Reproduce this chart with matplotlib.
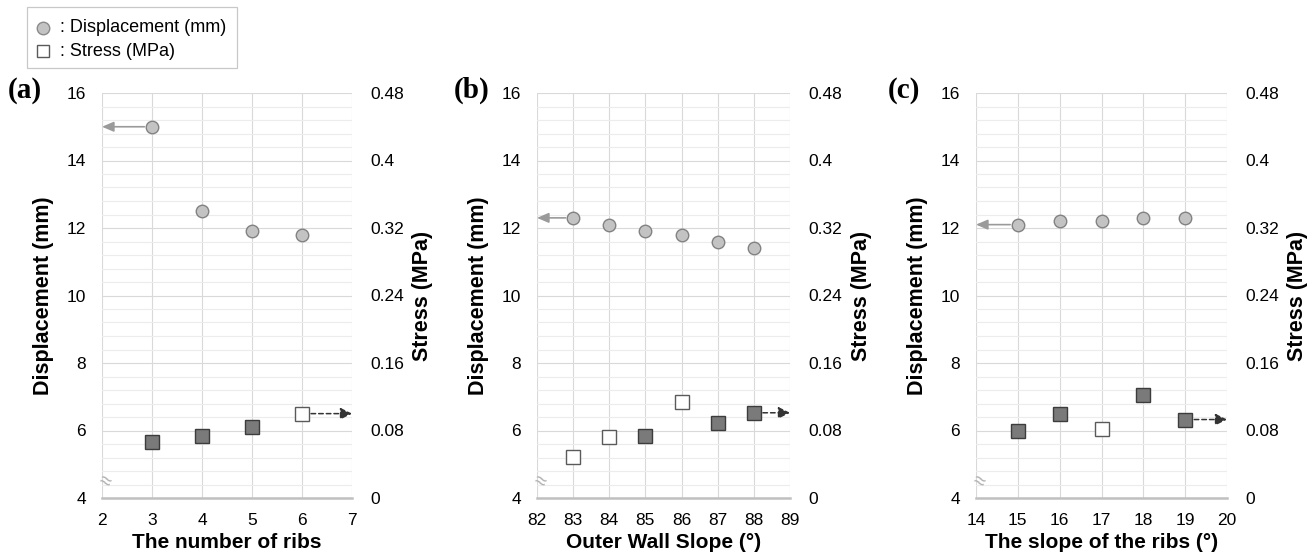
import matplotlib
matplotlib.use("Agg")
import matplotlib.pyplot as plt
from matplotlib.ticker import MultipleLocator
from matplotlib.patches import Rectangle
from matplotlib.lines import Line2D

plt.rcParams['font.family'] = ['Liberation Sans', 'DejaVu Sans']

# ---------------- data ----------------
ribs_x = [3, 4, 5, 6]
ribs_disp = [15.0, 12.5, 11.9, 11.8]
ribs_stress = [0.066, 0.074, 0.084, 0.100]
ribs_open = [False, False, False, True]

wall_x = [83, 84, 85, 86, 87, 88]
wall_disp = [12.3, 12.1, 11.9, 11.8, 11.6, 11.4]
wall_stress = [0.049, 0.072, 0.073, 0.114, 0.089, 0.101]
wall_open = [True, True, False, True, False, False]

slope_x = [15, 16, 17, 18, 19]
slope_disp = [12.1, 12.2, 12.2, 12.3, 12.3]
slope_stress = [0.080, 0.099, 0.082, 0.122, 0.093]
slope_open = [False, False, True, False, False]

disp_ticks = [4, 6, 8, 10, 12, 14, 16]
stress_ticks = [0, 0.08, 0.16, 0.24, 0.32, 0.40, 0.48]
stress_ticklabels = ['0', '0.08', '0.16', '0.24', '0.32', '0.4', '0.48']

panels = [
    dict(x=ribs_x, disp=ribs_disp, stress=ribs_stress, open=ribs_open,
         xlim=(2, 7), xlabel='The number of ribs', tag='(a)'),
    dict(x=wall_x, disp=wall_disp, stress=wall_stress, open=wall_open,
         xlim=(82, 89), xlabel='Outer Wall Slope (°)', tag='(b)'),
    dict(x=slope_x, disp=slope_disp, stress=slope_stress, open=slope_open,
         xlim=(14, 20), xlabel='The slope of the ribs (°)', tag='(c)'),
]

W, H = 1314, 558
fig = plt.figure(figsize=(W / 100, H / 100), dpi=100)

# axes boxes in pixels: left, right
boxes = [(102, 352), (537, 790), (976, 1227)]
top_px, bot_px = 93, 498
tag_x = [25, 471.5, 903.5]

TICK_FS = 12.5
XLABEL_FS = 15
YLABEL_FS = 15.5

for p, (l, r), tx in zip(panels, boxes, tag_x):
    ax = fig.add_axes([l / W, 1 - bot_px / H, (r - l) / W, (bot_px - top_px) / H])
    ax.set_xlim(*p['xlim'])
    ax.set_ylim(4, 16)
    ax.set_yticks(disp_ticks)
    ax.yaxis.set_minor_locator(MultipleLocator(0.4))
    ax.set_xticks(range(p['xlim'][0], p['xlim'][1] + 1))
    ax.grid(which='major', axis='both', color='#d9d9d9', lw=0.8, zorder=0)
    ax.grid(which='minor', axis='y', color='#ececec', lw=0.8, zorder=0)
    ax.set_axisbelow(True)
    for s in ['top', 'left', 'right']:
        ax.spines[s].set_visible(False)
    ax.spines['bottom'].set_color('#c0c0c0')
    ax.spines['bottom'].set_linewidth(1.8)
    ax.tick_params(which='both', length=0)
    ax.tick_params(axis='y', pad=11.5, labelsize=TICK_FS, colors='#000000')
    ax.tick_params(axis='x', pad=10.5, labelsize=TICK_FS)
    ax.set_xlabel(p['xlabel'], fontsize=XLABEL_FS, fontweight='bold')
    ax.xaxis.set_label_coords(0.5, -0.086)
    ax.set_ylabel('Displacement (mm)', fontsize=YLABEL_FS, fontweight='bold')
    ax.yaxis.set_label_coords(-0.19, 0.5)

    ax.plot(p['x'], p['disp'], 'o', ms=9, mfc='#c3c3c3', mec='#828282',
            mew=1.0, zorder=5, clip_on=False)

    # break sign near the origin
    ax.text(0.01, 0.04, '≈', transform=ax.transAxes, ha='center', va='center',
            fontsize=15, color='#b0b0b0', rotation=-25)

    # arrow to left axis
    ax.annotate('', xy=(p['xlim'][0], p['disp'][0]),
                xytext=(p['x'][0], p['disp'][0]),
                arrowprops=dict(arrowstyle='-|>,head_length=0.7,head_width=0.3',
                                color='#9a9a9a', lw=1.2, shrinkA=5.5, shrinkB=0),
                annotation_clip=False)

    ax2 = ax.twinx()
    ax2.set_ylim(0, 0.48)
    ax2.set_yticks(stress_ticks)
    ax2.set_yticklabels(stress_ticklabels)
    for s in ax2.spines.values():
        s.set_visible(False)
    ax2.tick_params(length=0, pad=13, labelsize=TICK_FS)
    ax2.set_ylabel('Stress (MPa)', fontsize=YLABEL_FS, fontweight='bold')
    ax2.yaxis.set_label_coords(1.24, 0.5)

    for xv, sv, op in zip(p['x'], p['stress'], p['open']):
        ax2.plot([xv], [sv], 's', ms=10,
                 mfc='white' if op else '#7a7a7a',
                 mec='#5a5a5a' if op else '#3c3c3c', mew=1.0, zorder=5)

    ax2.annotate('', xy=(p['xlim'][1], p['stress'][-1]),
                 xytext=(p['x'][-1], p['stress'][-1]),
                 arrowprops=dict(arrowstyle='-|>,head_length=0.7,head_width=0.35',
                                 color='#333333', lw=1.1, linestyle=(0, (3, 2)),
                                 shrinkA=6.5, shrinkB=0),
                 annotation_clip=False)

    fig.text(tx / W, 1 - 90 / H, p['tag'], ha='center', va='center',
             fontsize=21, fontweight='bold', family='Liberation Serif')

# legend box
fig.add_artist(Rectangle((27 / W, 1 - 68 / H), 210 / W, 61 / H,
                         transform=fig.transFigure, facecolor='white',
                         edgecolor='#c8c8c8', lw=0.9))
fig.add_artist(Line2D([43 / W], [1 - 28 / H], marker='o', ms=9, mfc='#c3c3c3',
                      mec='#8a8a8a', mew=1.0, transform=fig.transFigure))
fig.add_artist(Line2D([43 / W], [1 - 51 / H], marker='s', ms=9, mfc='white',
                      mec='#5a5a5a', mew=1.0, transform=fig.transFigure))
fig.text(60 / W, 1 - 28 / H, ': Displacement (mm)', va='center', fontsize=13)
fig.text(60 / W, 1 - 51 / H, ': Stress (MPa)', va='center', fontsize=13)

fig.savefig('out.png', dpi=100)
